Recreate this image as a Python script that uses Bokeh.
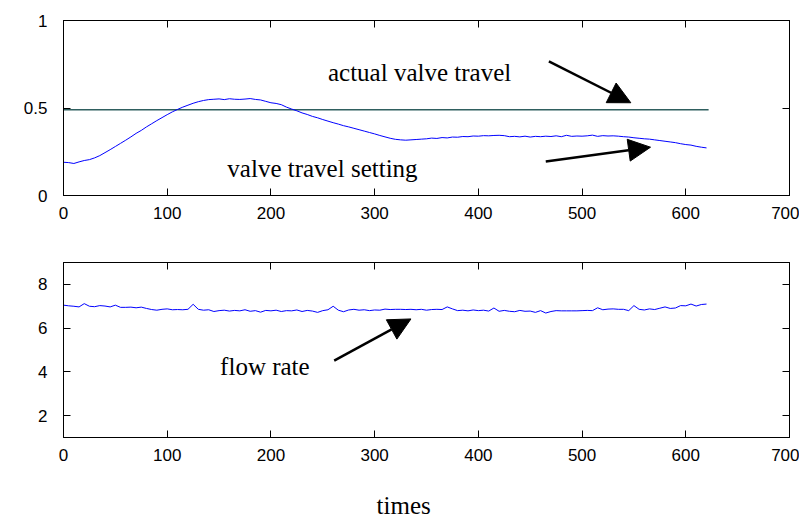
from bokeh.plotting import figure
from bokeh.models import (LinearAxis, Range1d, FixedTicker, Label, Arrow, NormalHead,
                          CustomJSTickFormatter)
from bokeh.layouts import column
from bokeh.embed import file_html
from bokeh.resources import INLINE

# ---------------- data ----------------
times = list(range(0, 625, 5))

valve_setting = [
    0.190, 0.188, 0.183, 0.192, 0.200, 0.205, 0.215, 0.228, 0.245, 0.262,
    0.280, 0.298, 0.316, 0.335, 0.355, 0.372, 0.392, 0.410, 0.428, 0.445,
    0.462, 0.478, 0.492, 0.505, 0.516, 0.527, 0.536, 0.543, 0.548, 0.550,
    0.552, 0.548, 0.553, 0.550, 0.549, 0.551, 0.554, 0.549, 0.546, 0.538,
    0.530, 0.526, 0.519, 0.505, 0.494, 0.484, 0.472, 0.463, 0.452, 0.444,
    0.434, 0.425, 0.416, 0.408, 0.399, 0.392, 0.384, 0.376, 0.368, 0.360,
    0.352, 0.343, 0.335, 0.327, 0.321, 0.318, 0.316, 0.318, 0.320, 0.322,
    0.324, 0.328, 0.326, 0.331, 0.329, 0.334, 0.333, 0.337, 0.336, 0.340,
    0.339, 0.342, 0.341, 0.343, 0.344, 0.342, 0.336, 0.338, 0.335, 0.339,
    0.334, 0.338, 0.336, 0.339, 0.337, 0.341, 0.336, 0.344, 0.338, 0.340,
    0.339, 0.341, 0.345, 0.338, 0.342, 0.340, 0.341, 0.339, 0.336, 0.334,
    0.330, 0.327, 0.324, 0.322, 0.318, 0.314, 0.310, 0.306, 0.302, 0.296,
    0.291, 0.288, 0.281, 0.276, 0.272,
]

flow_rate = [
    7.05, 7.02, 7.00, 6.97, 7.12, 7.00, 6.98, 7.03, 7.01, 6.97,
    7.05, 6.95, 6.95, 6.96, 6.93, 6.96, 6.90, 6.85, 6.82, 6.86,
    6.88, 6.84, 6.85, 6.84, 6.86, 7.09, 6.86, 6.82, 6.84, 6.76,
    6.80, 6.82, 6.78, 6.81, 6.79, 6.84, 6.77, 6.80, 6.73, 6.81,
    6.79, 6.82, 6.76, 6.80, 6.79, 6.83, 6.76, 6.81, 6.78, 6.72,
    6.80, 6.84, 7.00, 6.82, 6.75, 6.83, 6.86, 6.82, 6.84, 6.80,
    6.83, 6.82, 6.87, 6.85, 6.86, 6.86, 6.85, 6.86, 6.84, 6.86,
    6.82, 6.85, 6.86, 6.85, 6.97, 6.88, 6.80, 6.82, 6.79, 6.83,
    6.80, 6.82, 6.78, 6.92, 6.77, 6.81, 6.77, 6.75, 6.81, 6.77,
    6.78, 6.72, 6.80, 6.69, 6.76, 6.80, 6.79, 6.79, 6.79, 6.79,
    6.80, 6.81, 6.80, 6.93, 6.84, 6.87, 6.88, 6.86, 6.86, 6.80,
    7.03, 6.86, 6.83, 6.88, 6.85, 6.91, 6.97, 6.90, 6.92, 7.03,
    7.02, 7.10, 7.01, 7.08, 7.10,
]

actual_x = [0, 622]
actual_travel = [0.49, 0.49]

x_ticks = [0, 100, 200, 300, 400, 500, 600, 700]
top_y_ticks = [0, 0.5, 1]
bottom_y_ticks = [2, 4, 6, 8]
x_title = "times"

SANS = "Liberation Sans"
SERIF = "Liberation Serif"


def style_axis(ax, ticks, show_labels=True):
    ax.ticker = FixedTicker(ticks=ticks)
    ax.minor_tick_line_color = None
    ax.major_tick_in = 7
    ax.major_tick_out = 0
    ax.axis_line_color = "black"
    ax.major_tick_line_color = "black"
    ax.major_label_text_font = SANS
    ax.major_label_text_font_size = "17px"
    ax.major_label_text_color = "black"
    if not show_labels:
        ax.formatter = CustomJSTickFormatter(code="return ''")
        ax.major_label_standoff = 0


def make_fig(border_top, border_bottom, yr, yticks):
    p = figure(frame_width=726, frame_height=175,
               x_range=Range1d(0, 700), y_range=Range1d(*yr),
               output_backend="svg", toolbar_location=None,
               min_border_left=63, min_border_right=10,
               min_border_top=border_top, min_border_bottom=border_bottom)
    p.xgrid.visible = False
    p.ygrid.visible = False
    p.outline_line_color = "black"
    p.background_fill_color = "white"
    p.border_fill_color = "white"
    style_axis(p.xaxis[0], x_ticks)
    p.xaxis[0].major_label_standoff = 11
    style_axis(p.yaxis[0], yticks)
    p.yaxis[0].major_label_standoff = 16
    right = LinearAxis()
    style_axis(right, yticks, show_labels=False)
    p.add_layout(right, "right")
    top = LinearAxis()
    style_axis(top, x_ticks, show_labels=False)
    p.add_layout(top, "above")
    return p


def arrow(p, xs, ys, xe, ye):
    p.add_layout(Arrow(x_start=xs, y_start=ys, x_end=xe, y_end=ye,
                       line_color="black", line_width=2.5,
                       end=NormalHead(size=22, fill_color="black",
                                      line_color="black")))


def label(p, x, y, text):
    p.add_layout(Label(x=x, y=y, text=text, text_font=SERIF,
                       text_font_size="25px", text_color="black",
                       text_baseline="alphabetic", text_align="left"))


# ---------------- top panel ----------------
p1 = make_fig(20, 45, (0, 1), top_y_ticks)
p1.yaxis[0].major_label_overrides = {0: "0", 0.5: "0.5", 1: "1"}
p1.line(actual_x, actual_travel, line_color="#2f5f5f", line_width=1.3)
p1.line(times, valve_setting, line_color="#0000ff", line_width=1)
label(p1, 255, 0.705, "actual valve travel")
label(p1, 158, 0.153, "valve travel setting")
arrow(p1, 468, 0.766, 547, 0.53)
arrow(p1, 465, 0.194, 566, 0.276)

# ---------------- bottom panel ----------------
p2 = make_fig(22, 0, (1, 9), bottom_y_ticks)
p2.line(times, flow_rate, line_color="#0000ff", line_width=1)
label(p2, 151, 4.24, "flow rate")
arrow(p2, 261, 4.51, 335, 6.42)

# second (line-less) axis below that carries the "times" title
title_axis = LinearAxis()
title_axis.ticker = FixedTicker(ticks=[328])
title_axis.major_label_overrides = {328: x_title}
title_axis.axis_line_color = None
title_axis.major_tick_line_color = None
title_axis.minor_tick_line_color = None
title_axis.major_tick_in = 0
title_axis.major_tick_out = 0
title_axis.major_label_standoff = 28
title_axis.major_label_text_font = SERIF
title_axis.major_label_text_font_size = "25px"
title_axis.major_label_text_color = "black"
p2.add_layout(title_axis, "below")

layout = column(p1, p2, spacing=0)
open("out.html", "w").write(file_html(layout, INLINE))
